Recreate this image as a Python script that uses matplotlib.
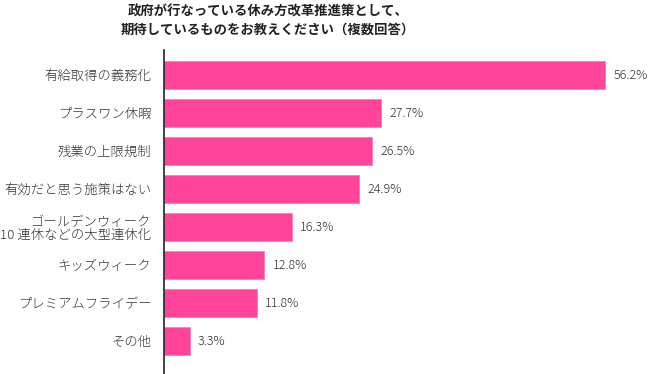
import matplotlib
matplotlib.use("Agg")
import matplotlib.pyplot as plt

plt.rcParams['font.family'] = ['Noto Sans CJK JP', 'DejaVu Sans']

categories = [
    "有給取得の義務化",
    "プラスワン休暇",
    "残業の上限規制",
    "有効だと思う施策はない",
    "ゴールデンウィーク\n10 連休などの大型連休化",
    "キッズウィーク",
    "プレミアムフライデー",
    "その他",
]
values = [56.2, 27.7, 26.5, 24.9, 16.3, 12.8, 11.8, 3.3]
value_labels = ["56.2%", "27.7%", "26.5%", "24.9%", "16.3%", "12.8%", "11.8%", "3.3%"]
title = "政府が行なっている休み方改革推進策として、\n期待しているものをお教えください（複数回答）"

W, H = 650, 374
fig = plt.figure(figsize=(W / 100, H / 100), dpi=100)
ax_left, ax_top = 164, 50
ax = fig.add_axes([ax_left / W, 0, (W - ax_left) / W, (H - ax_top) / H])

px_per_unit = 7.85
ax.set_xlim(0, (W - ax_left) / px_per_unit)
slot = 38.0
ax.set_ylim(7 + 33 / slot, -25 / slot)

ypos = list(range(len(categories)))
ax.barh(ypos, values, height=0.76, color="#FF4499", edgecolor="#FF7AB8", linewidth=0.6)

for y, v, lab in zip(ypos, values, value_labels):
    ax.text(v + 8 / px_per_unit, y, lab, va="center", ha="left", fontsize=9,
            color="#333333", fontweight="light")

ax.set_yticks(ypos)
ax.set_yticklabels(categories, fontsize=9.6, color="#333333", linespacing=1.0,
                   fontweight="light")
ax.tick_params(axis="y", length=0, pad=9)
ax.set_xticks([])
for s in ["top", "right", "bottom"]:
    ax.spines[s].set_visible(False)
ax.spines["left"].set_color("#222222")
ax.spines["left"].set_linewidth(1.2)

fig.text(268 / W, 1 - 5 / H, title, ha="center", va="top", fontsize=9.6,
         fontweight="bold", color="#222222", linespacing=1.3)

fig.savefig("out.png", dpi=100)
